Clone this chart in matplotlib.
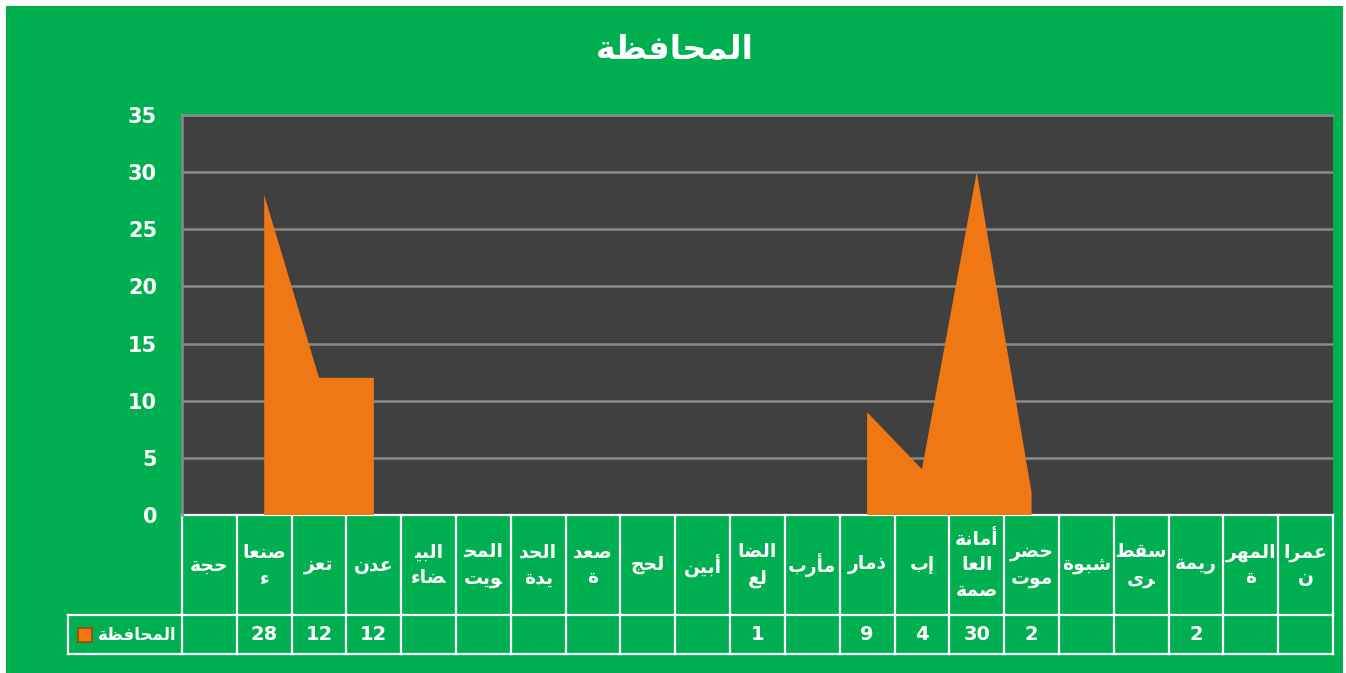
import matplotlib
matplotlib.use('Agg')
import matplotlib.pyplot as plt
import numpy as np
from matplotlib.patches import Rectangle

# data, '|' marks where the cell wraps the label
categories = ['حجة', 'صنعا|ء', 'تعز', 'عدن', 'البي|ضاء', 'المح|ويت', 'الحد|يدة',
              'صعد|ة', 'لحج', 'أبين', 'الضا|لع', 'مأرب', 'ذمار', 'إب',
              'أمانة |العا|صمة', 'حضر|موت', 'شبوة', 'سقط|رى', 'ريمة', 'المهر|ة', 'عمرا|ن']
values = [None, 28, 12, 12, None, None, None, None, None, None, 1, None,
          9, 4, 30, 2, None, None, 2, None, None]
series_name = 'المحافظة'
title = 'المحافظة'
yticks = [0, 5, 10, 15, 20, 25, 30, 35]

GREEN = '#00B050'
ORANGE = '#F07814'

# minimal arabic shaping (presentation forms B), matplotlib has no shaper
DUAL = {'ئ': 0xFE89, 'ب': 0xFE8F, 'ت': 0xFE95, 'ث': 0xFE99, 'ج': 0xFE9D, 'ح': 0xFEA1,
        'خ': 0xFEA5, 'س': 0xFEB1, 'ش': 0xFEB5, 'ص': 0xFEB9, 'ض': 0xFEBD, 'ط': 0xFEC1,
        'ظ': 0xFEC5, 'ع': 0xFEC9, 'غ': 0xFECD, 'ف': 0xFED1, 'ق': 0xFED5, 'ك': 0xFED9,
        'ل': 0xFEDD, 'م': 0xFEE1, 'ن': 0xFEE5, 'ه': 0xFEE9, 'ي': 0xFEF1}
RIGHT = {'آ': 0xFE81, 'أ': 0xFE83, 'ؤ': 0xFE85, 'إ': 0xFE87, 'ا': 0xFE8D, 'ة': 0xFE93,
         'د': 0xFEA9, 'ذ': 0xFEAB, 'ر': 0xFEAD, 'ز': 0xFEAF, 'و': 0xFEED, 'ى': 0xFEEF}


def shape(text):
    chars = [c for c in text if c != '|']
    out = []
    for i, c in enumerate(chars):
        if c in DUAL or c in RIGHT:
            prev = i > 0 and chars[i - 1] in DUAL
            nxt = c in DUAL and i < len(chars) - 1 and (chars[i + 1] in DUAL or chars[i + 1] in RIGHT)
            base = DUAL.get(c, RIGHT.get(c))
            if prev and nxt:
                out.append(chr(base + 3))
            elif prev:
                out.append(chr(base + 1))
            elif nxt:
                out.append(chr(base + 2))
            else:
                out.append(chr(base))
        elif c == 'ء':
            out.append(chr(0xFE80))
        else:
            out.append(c)
    # split into wrapped lines, reverse each for right-to-left display
    lines, cur, k = [], [], 0
    for c in text:
        if c == '|':
            lines.append(cur)
            cur = []
        else:
            cur.append(out[k])
            k += 1
    lines.append(cur)
    return '\n'.join(''.join(reversed(l)).strip() for l in lines)


plt.rcParams['font.family'] = ['DejaVu Sans']

fig = plt.figure(figsize=(13.46, 6.73), dpi=100, facecolor='white')
fig.patches.append(Rectangle((6 / 1346, 0), 1337 / 1346, 667 / 673, transform=fig.transFigure,
                             facecolor=GREEN, edgecolor='none', zorder=-10))

ax = fig.add_axes([182 / 1346, 1 - 515 / 673, 1151 / 1346, 400 / 673])
ax.set_facecolor('#404040')

x = np.arange(len(categories))
y = np.array([np.nan if v is None else v for v in values], dtype=float)
ax.fill_between(x, 0, y, color=ORANGE, linewidth=0, zorder=3)

ax.set_xlim(-0.5, len(categories) - 0.5)
ax.set_ylim(0, 35)
ax.set_yticks(yticks)
ax.set_yticklabels([str(t) for t in yticks], color='white', fontsize=15, fontweight='bold')
ax.tick_params(axis='y', length=0, pad=18)
ax.set_xticks([])
ax.grid(axis='y', color='#8a8a8a', linewidth=1.8, zorder=1)
ax.set_axisbelow(True)
for s in ['top', 'left', 'right']:
    ax.spines[s].set_color('#8a8a8a')
    ax.spines[s].set_linewidth(1.8)
ax.spines['right'].set_visible(False)
ax.spines['bottom'].set_visible(False)

fig.text(675 / 1346, 1 - 50 / 673, shape(title), color='white', fontsize=24,
         fontweight='bold', ha='center', va='center')

# data table under the plot
tr = ax.get_xaxis_transform()
left = -2.58
r1, r2 = -0.25, -0.3475
lw = 1.6
ax.plot([-0.5, len(categories) - 0.5], [0, 0], color='white', lw=lw, transform=tr, clip_on=False)
ax.plot([left, len(categories) - 0.5], [r1, r1], color='white', lw=lw, transform=tr, clip_on=False)
ax.plot([left, len(categories) - 0.5], [r2, r2], color='white', lw=lw, transform=tr, clip_on=False)
for k in range(len(categories) + 1):
    ax.plot([k - 0.5, k - 0.5], [0, r2], color='white', lw=lw, transform=tr, clip_on=False)
ax.plot([left, left], [r1, r2], color='white', lw=lw, transform=tr, clip_on=False)

for i, c in enumerate(categories):
    ax.text(i, -0.125, shape(c), transform=tr, ha='center', va='center', color='white',
            fontsize=13.5, fontweight='bold', linespacing=1.45, clip_on=False)
    if values[i] is not None:
        ax.text(i, (r1 + r2) / 2, str(values[i]), transform=tr, ha='center', va='center',
                color='white', fontsize=14, fontweight='bold')

# legend key in the table
ax.add_patch(Rectangle((-2.39, -0.318), 0.25, 0.036, transform=tr, facecolor=ORANGE,
                       edgecolor='#A0480A', lw=1.2, clip_on=False))
ax.text(-0.6, (r1 + r2) / 2, shape(series_name), transform=tr, ha='right', va='center',
        color='white', fontsize=12, fontweight='bold')

fig.savefig('out.png', dpi=100, facecolor=fig.get_facecolor())
